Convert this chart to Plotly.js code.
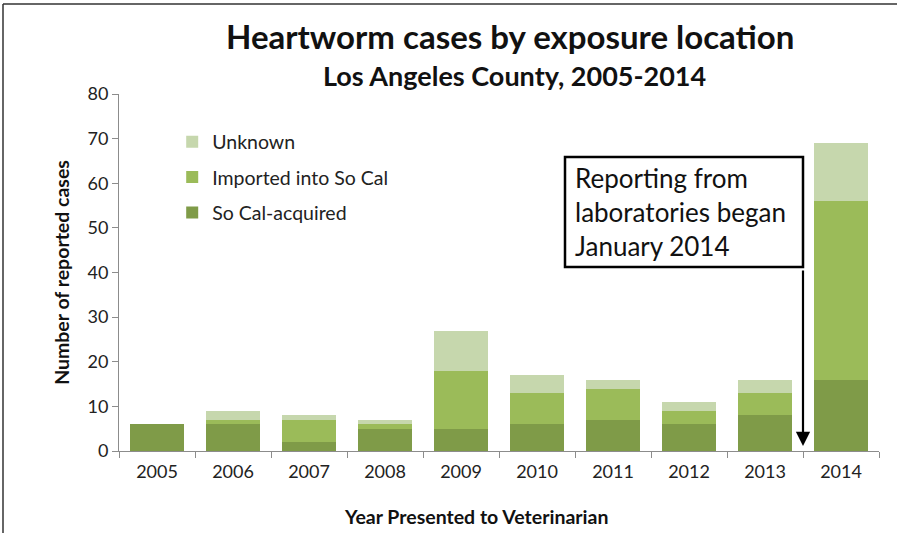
<!DOCTYPE html>
<html>
<head>
<meta charset="utf-8">
<script src="https://cdn.plot.ly/plotly-3.0.1.min.js"></script>
<style>html,body{margin:0;padding:0;background:#fff;}#chart{width:897px;height:533px;}</style>
</head>
<body>
<div id="chart"></div>
<script>
const years = ["2005","2006","2007","2008","2009","2010","2011","2012","2013","2014"];
const soCalAcquired = [6, 6, 2, 5, 5, 6, 7, 6, 8, 16];
const importedSoCal = [0, 1, 5, 1, 13, 7, 7, 3, 5, 40];
const unknownCases  = [0, 2, 1, 1, 9, 4, 2, 2, 3, 13];
const yTicks = [0,10,20,30,40,50,60,70,80];

const FONT = "Lato, 'Open Sans', sans-serif";
const traces = [
  {name:"So Cal-acquired", x:years, y:soCalAcquired, type:"bar", marker:{color:"#7f9b48"}, legendgroup:"a", legendrank:3},
  {name:"Imported into So Cal", x:years, y:importedSoCal, type:"bar", marker:{color:"#9bbb59"}, legendgroup:"b", legendrank:2},
  {name:"Unknown", x:years, y:unknownCases, type:"bar", marker:{color:"#c6d7ad"}, legendgroup:"c", legendrank:1}
];

const layout = {
  width:897, height:533,
  margin:{l:119, r:18, t:94, b:82},
  paper_bgcolor:"#fff", plot_bgcolor:"#fff",
  barmode:"stack", bargap:0.284,
  font:{family:FONT, size:17, color:"#222"},
  showlegend:true,
  legend:{x:0.07, y:0.92, xanchor:"left", yanchor:"top", traceorder:"grouped", tracegroupgap:7,
          font:{size:19.5, color:"#222"}, bgcolor:"rgba(0,0,0,0)"},
  xaxis:{type:"category", showline:true, linecolor:"#8c8c8c", linewidth:1, ticks:"outside", tickson:"boundaries",
         ticklen:6, tickcolor:"#8c8c8c", showgrid:false, zeroline:false, tickfont:{size:18, color:"#222"}, ticklabelstandoff:4},
  yaxis:{range:[0,80], tickvals:yTicks, showline:true, linecolor:"#8c8c8c", linewidth:1, ticks:"outside", ticklen:6,
         tickcolor:"#8c8c8c", showgrid:false, zeroline:false, tickfont:{size:18, color:"#222"},
         title:{text:"<b>Number of reported cases</b>", font:{size:19.5, color:"#111"}, standoff:12}},
  annotations:[
    {xref:"paper", yref:"paper", x:(510-119)/760, y:(533-36-82)/357, xanchor:"center", yanchor:"middle", showarrow:false,
     text:"<b>Heartworm cases by exposure location</b>", font:{size:33, color:"#111"}},
    {xref:"paper", yref:"paper", x:(514-119)/760, y:(533-76-82)/357, xanchor:"center", yanchor:"middle", showarrow:false,
     text:"<b>Los Angeles County, 2005-2014</b>", font:{size:27, color:"#111"}},
    {xref:"paper", yref:"paper", x:(476-119)/760, y:(533-516-82)/357, xanchor:"center", yanchor:"middle", showarrow:false,
     text:"<b>Year Presented to Veterinarian</b>", font:{size:19.5, color:"#111"}},
    {xref:"paper", yref:"paper", x:(573-119)/760, y:(451-212)/357, xanchor:"left", yanchor:"middle", showarrow:false, align:"left",
     text:"Reporting from<br>laboratories began<br>January 2014", font:{size:26, color:"#111"}},
    {xref:"paper", yref:"paper", x:(803-119)/760, y:(451-446)/357, axref:"pixel", ayref:"pixel", ax:0, ay:-177,
     showarrow:true, arrowhead:2, arrowsize:1.3, arrowwidth:2.2, arrowcolor:"#000", text:""}
  ],
  shapes:[
    {type:"rect", xref:"paper", yref:"paper", x0:(565-119)/760, x1:(803-119)/760, y0:(451-267)/357, y1:(451-157)/357,
     line:{color:"#000", width:2.5}, fillcolor:"rgba(255,255,255,0)"},
    {type:"line", xref:"paper", yref:"paper", x0:(3-119)/760, x1:(897-119)/760, y0:(451-4)/357, y1:(451-4)/357, line:{color:"#333", width:1.5}},
    {type:"line", xref:"paper", yref:"paper", x0:(3-119)/760, x1:(3-119)/760, y0:(451-4)/357, y1:(451-533)/357, line:{color:"#333", width:1.5}}
  ]
};
Plotly.newPlot("chart", traces, layout, {displayModeBar:false, staticPlot:true});
</script>
</body>
</html>
